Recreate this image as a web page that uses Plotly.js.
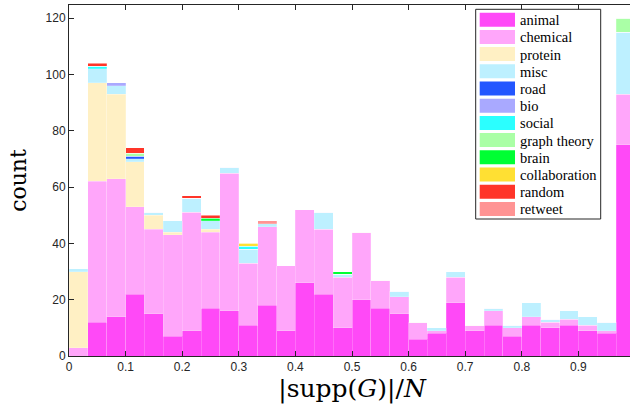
<!DOCTYPE html>
<html>
<head>
<meta charset="utf-8">
<script src="https://cdn.plot.ly/plotly-3.0.1.min.js"></script>
<style>
html, body { margin: 0; padding: 0; overflow: hidden; background: #fff; }
#chart { width: 636px; height: 408px; }
</style>
</head>
<body>
<div id="chart"></div>
<script>
// 30 bins of width 1/30 over [0, 1]
const binWidth = 1 / 30;
const nBins = 30;

const categories = ["animal", "chemical", "protein", "misc", "road", "bio", "social",
  "graph theory", "brain", "collaboration", "random", "retweet"];

const colors = ["#ff49f7", "#ffa6fa", "#fff0c4", "#bdf0ff", "#2356ff", "#a9a9ff",
  "#2bffff", "#aaffa6", "#00ff33", "#ffe033", "#ff3529", "#ff9494"];

// counts per bin (bin 0 .. bin 29)
const animal       = [0,12,14,22,15,7,9,17,16,11,18,9,26,22,10,20,17,15,6,8,19,9,11,7,11,10,11,9,8,75];
const chemical     = [3,50,49,31,30,36,42,27,49,22,28,23,26,23,18,24,10,6,6,1,9,2,5,3,3,2,2,2,1,18];
const protein      = [27,35,30,16,5,1,0,1,0,0,0,0,0,0,0,0,0,0,0,0,0,0,0,0,0,0,0,0,0,0];
const misc         = [1,5,3,1,1,4,5,3,2,5,1,0,0,6,1,0,0,2,0,1,2,0,1,1,5,1,3,3,3,22];
const road         = [0,0,0,1,0,0,0,0,0,0,0,0,0,0,0,0,0,0,0,0,0,0,0,0,0,0,0,0,0,0];
const bio          = [0,0,1,0,0,0,0,0,0,0,0,0,0,0,0,0,0,0,0,0,0,0,0,0,0,0,0,0,0,0];
const social       = [0,1,0,0,0,0,0,0,0,1,0,0,0,0,0,0,0,0,0,0,0,0,0,0,0,0,0,0,0,0];
const graphTheory  = [0,0,0,1,0,0,0,0,0,0,0,0,0,0,0,0,0,0,0,0,0,0,0,0,0,0,0,0,0,5];
const brain        = [0,0,0,0,0,0,0,1,0,0,0,0,0,0,1,0,0,0,0,0,0,0,0,0,0,0,0,0,0,0];
const collaboration= [0,0,0,0,0,0,0,0,0,1,0,0,0,0,0,0,0,0,0,0,0,0,0,0,0,0,0,0,0,0];
const random       = [0,1,0,2,0,0,1,1,0,0,0,0,0,0,0,0,0,0,0,0,0,0,0,0,0,0,0,0,0,0];
const retweet      = [0,0,0,0,0,0,0,0,0,0,1,0,0,0,0,0,0,0,0,0,0,0,0,0,0,0,0,0,0,0];

const series = [animal, chemical, protein, misc, road, bio, social, graphTheory,
  brain, collaboration, random, retweet];

const xTicks = [0, 0.1, 0.2, 0.3, 0.4, 0.5, 0.6, 0.7, 0.8, 0.9];
const xTickLabels = ["0", "0.1", "0.2", "0.3", "0.4", "0.5", "0.6", "0.7", "0.8", "0.9"];
const yTicks = [0, 20, 40, 60, 80, 100, 120];

const binCenters = [];
for (let k = 0; k < nBins; k++) binCenters.push((k + 0.5) * binWidth);

const traces = series.map((vals, i) => ({
  type: "bar",
  name: categories[i],
  x: binCenters,
  y: vals,
  width: binWidth,
  marker: { color: colors[i], line: { width: 0.5, color: "rgba(255,255,255,0.4)" } },
  hoverinfo: "x+y+name",
  showlegend: false
}));

// ---- legend box (MATLAB style, wide swatches), placed in paper coords ----
const W = 636, H = 408, mL = 69, mR = 1, mT = 5, mB = 52;
const pw = W - mL - mR, ph = H - mT - mB;
const px = v => (v - mL) / pw;          // pixel -> paper x
const py = v => (H - mB - v) / ph;       // pixel -> paper y

const legLeft = 475.7, legRight = 600.7, legTop = 9.3, legBottom = 219;
const swL = 479.7, swR = 515, sw0 = 12.7, swH = 14, rowPitch = 17.2, textX = 518.5;

const shapes = [{
  type: "rect", xref: "paper", yref: "paper",
  x0: px(legLeft), x1: px(legRight), y0: py(legBottom), y1: py(legTop),
  fillcolor: "#fff", line: { color: "#262626", width: 1 }, layer: "above"
}];
const annotations = [];
categories.forEach((name, i) => {
  const top = sw0 + i * rowPitch;
  shapes.push({
    type: "rect", xref: "paper", yref: "paper",
    x0: px(swL), x1: px(swR), y0: py(top + swH), y1: py(top),
    fillcolor: colors[i], line: { width: 0 }, layer: "above"
  });
  annotations.push({
    xref: "paper", yref: "paper", x: px(textX), y: py(top + swH / 2 + 0.5),
    xanchor: "left", yanchor: "middle", showarrow: false, borderpad: 0,
    text: name,
    font: { family: "Liberation Serif, Times New Roman, serif", size: 14.5, color: "#000" }
  });
});

const axisCommon = {
  showline: true, linecolor: "#262626", linewidth: 1, mirror: "ticks",
  ticks: "inside", ticklen: 5, tickcolor: "#262626", tickwidth: 1,
  showgrid: false, zeroline: false,
  tickfont: { family: "Liberation Sans, Arial, sans-serif", size: 12, color: "#262626" }
};

const layout = {
  width: W, height: H,
  margin: { l: mL, r: mR, t: mT, b: mB },
  paper_bgcolor: "#fff", plot_bgcolor: "#fff",
  barmode: "stack", bargap: 0,
  showlegend: false,
  xaxis: Object.assign({}, axisCommon, {
    range: [0, 1], tickvals: xTicks, ticktext: xTickLabels,
    title: { text: "|supp(<i>G</i>)|/<i>N</i>", standoff: 2,
      font: { family: "DejaVu Serif, Liberation Serif, serif", size: 25, color: "#000" } }
  }),
  yaxis: Object.assign({}, axisCommon, {
    range: [0, 124.7], tickvals: yTicks,
    title: { text: "count", standoff: 12,
      font: { family: "DejaVu Serif, Liberation Serif, serif", size: 22, color: "#000" } }
  }),
  shapes: shapes,
  annotations: annotations
};

Plotly.newPlot("chart", traces, layout, { displayModeBar: false, staticPlot: true });
</script>
</body>
</html>
